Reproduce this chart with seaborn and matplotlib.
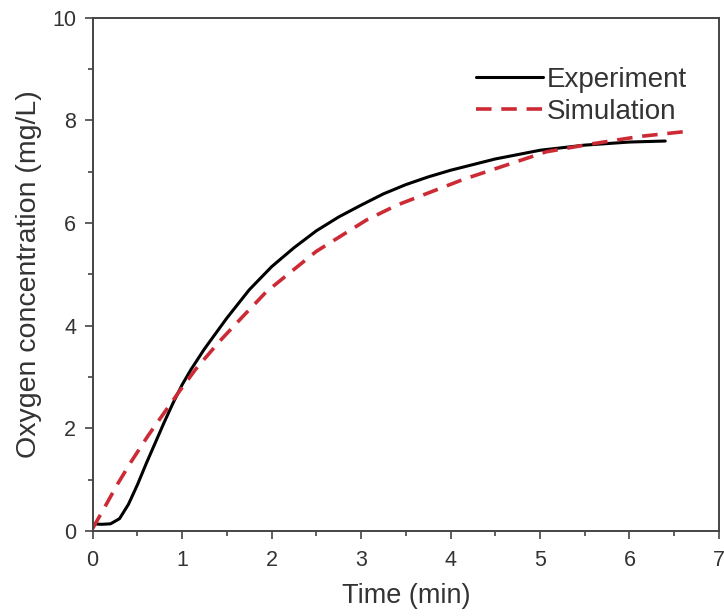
import pandas as pd
import seaborn as sns
import matplotlib.pyplot as plt
from matplotlib.ticker import MultipleLocator

# values
exp_time = [0, 0.1, 0.2, 0.3, 0.4, 0.5, 0.6, 0.7, 0.8, 0.9, 1.0, 1.1, 1.25, 1.5, 1.75,
            2.0, 2.25, 2.5, 2.75, 3.0, 3.25, 3.5, 3.75, 4.0, 4.5, 5.0, 5.5, 6.0, 6.4]
exp_conc = [0.14, 0.13, 0.14, 0.24, 0.52, 0.9, 1.32, 1.72, 2.12, 2.5, 2.85, 3.15, 3.55,
            4.15, 4.7, 5.15, 5.52, 5.85, 6.12, 6.35, 6.57, 6.75, 6.9, 7.03, 7.25, 7.42,
            7.52, 7.58, 7.6]

sim_time = [0, 0.13, 0.28, 0.43, 0.62, 0.79, 0.96, 1.15, 1.42, 1.7, 1.94, 2.5, 3.06, 3.4,
            4.14, 5.07, 5.6, 6.12, 6.6]
sim_conc = [0.05, 0.45, 0.92, 1.35, 1.86, 2.28, 2.7, 3.15, 3.7, 4.22, 4.66, 5.45, 6.06, 6.35,
            6.85, 7.39, 7.55, 7.69, 7.78]

df_exp = pd.DataFrame({'time': exp_time, 'conc': exp_conc})
df_sim = pd.DataFrame({'time': sim_time, 'conc': sim_conc})

sns.set_style('ticks')
plt.rcParams['font.family'] = ['Liberation Sans', 'DejaVu Sans']
text_color = '#333333'
axis_color = '#444444'

fig = plt.figure(figsize=(7.24, 6.16), dpi=100)
ax = fig.add_axes([0.128, 0.138, 0.865, 0.833])

sns.lineplot(data=df_exp, x='time', y='conc', ax=ax, color='black', linewidth=2.2,
             label='Experiment')
sns.lineplot(data=df_sim, x='time', y='conc', ax=ax, color='#cc2b35', linewidth=2.6,
             linestyle=(0, (4.3, 2.7)), label='Simulation')

ax.set_xlim(0, 7)
ax.set_ylim(0, 10)
ax.xaxis.set_major_locator(MultipleLocator(1))
ax.xaxis.set_minor_locator(MultipleLocator(0.5))
ax.yaxis.set_major_locator(MultipleLocator(2))
ax.yaxis.set_minor_locator(MultipleLocator(1))
ax.tick_params(which='major', direction='out', length=6, width=1.2, labelsize=15.5,
               colors=axis_color, labelcolor=text_color)
ax.tick_params(axis='x', which='major', pad=8)
ax.tick_params(axis='y', which='major', pad=6)
ax.tick_params(which='minor', direction='out', length=3.5, width=1.2, colors=axis_color)

for side in ['top', 'right', 'bottom', 'left']:
    ax.spines[side].set_visible(True)
    ax.spines[side].set_linewidth(1.4)
    ax.spines[side].set_color(axis_color)

ax.set_xlabel('Time (min)', fontsize=19.5, color=text_color, labelpad=8)
ax.set_ylabel('Oxygen concentration (mg/L)', fontsize=20.5, color=text_color, labelpad=7)

leg = ax.legend(loc='upper left', bbox_to_anchor=(0.612, 0.905), frameon=False, fontsize=20,
                handlelength=2.4, handletextpad=0.15, labelspacing=0.22,
                borderpad=0, borderaxespad=0)
for t in leg.get_texts():
    t.set_color(text_color)

plt.savefig('out.png', dpi=100)
plt.close()
